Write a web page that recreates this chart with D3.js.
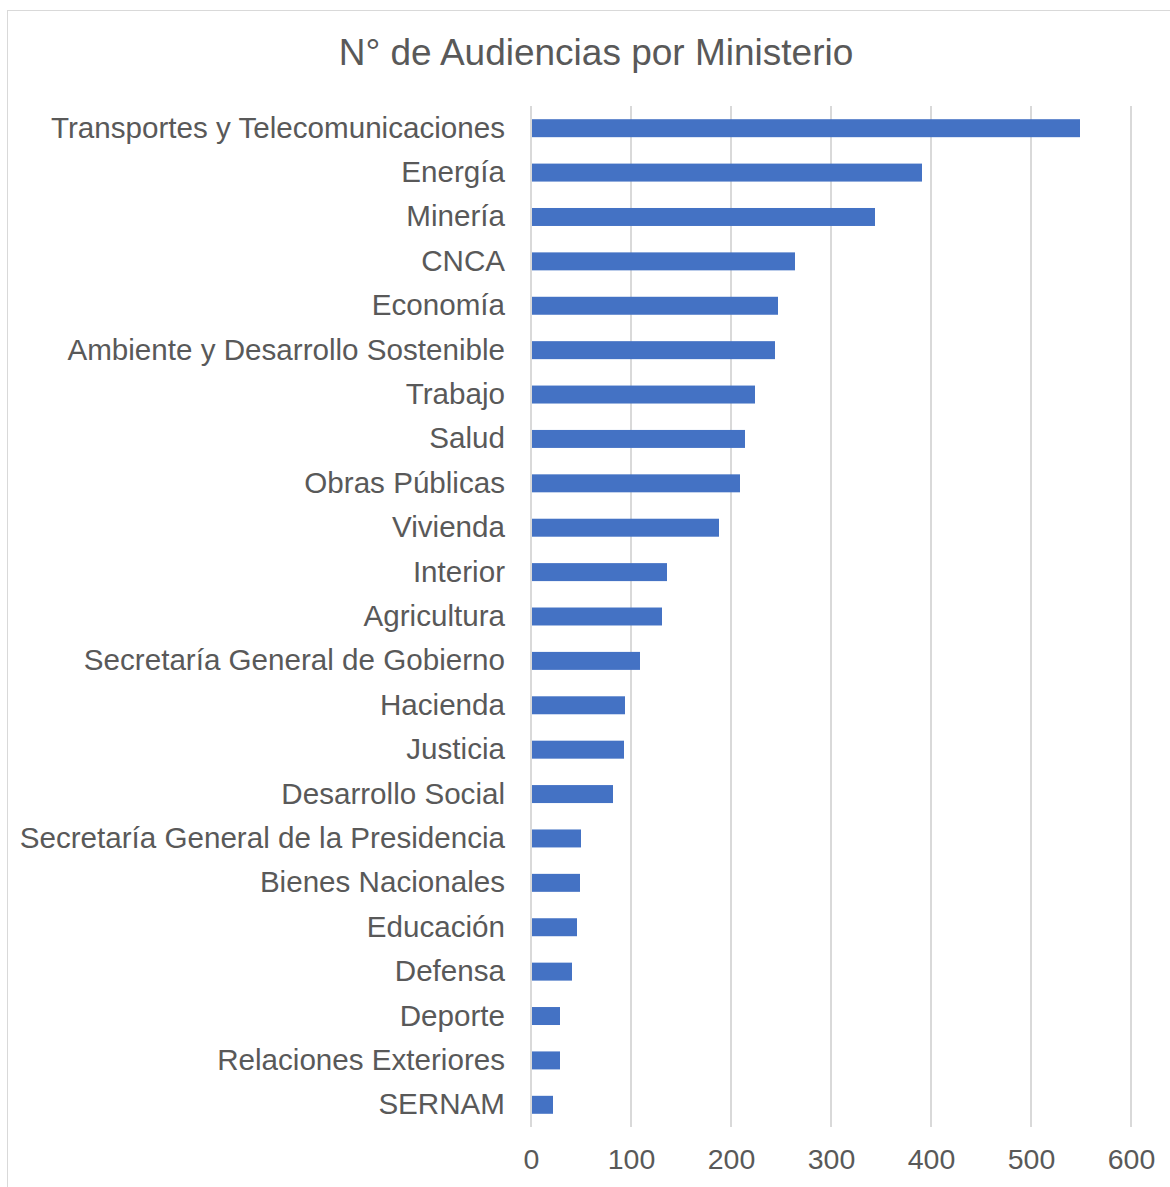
<!DOCTYPE html>
<html>
<head>
<meta charset="utf-8">
<script src="https://cdn.jsdelivr.net/npm/d3@7"></script>
<style>
  body { margin: 0; background: #fff; }
  text { font-family: "Liberation Sans", Arial, sans-serif; fill: #595959; }
</style>
</head>
<body>
<div id="chart"></div>
<script>
// ministries, top to bottom
var ministries = ["Transportes y Telecomunicaciones", "Energía", "Minería", "CNCA", "Economía",
    "Ambiente y Desarrollo Sostenible", "Trabajo", "Salud", "Obras Públicas", "Vivienda",
    "Interior", "Agricultura", "Secretaría General de Gobierno", "Hacienda", "Justicia",
    "Desarrollo Social", "Secretaría General de la Presidencia", "Bienes Nacionales",
    "Educación", "Defensa", "Deporte", "Relaciones Exteriores", "SERNAM"];
var audiencias = [549, 391, 344, 264, 247, 244, 224, 214, 209, 188, 136, 131, 109, 94, 93,
    82, 50, 49, 46, 41, 29, 29, 22];
var xTicks = [0, 100, 200, 300, 400, 500, 600];

var W = 1170, H = 1187;
var margin = { top: 106, right: 39, bottom: 60, left: 531 },
    width = 600,
    height = 1021;

var svg = d3.select("#chart")
    .append("svg")
    .attr("width", W)
    .attr("height", H);

// outer border of the chart area
svg.append("rect")
    .attr("x", 7.5).attr("y", 10.5)
    .attr("width", 1180).attr("height", 1200)
    .attr("fill", "none")
    .attr("stroke", "#d9d9d9");

// title
svg.append("text")
    .attr("x", 596)
    .attr("y", 65)
    .attr("text-anchor", "middle")
    .style("font-size", "37px")
    .text("N° de Audiencias por Ministerio");

var g = svg.append("g")
    .attr("transform", "translate(" + margin.left + "," + margin.top + ")");

var x = d3.scaleLinear()
    .domain([0, 600])
    .range([0, width]);

var y = d3.scaleBand()
    .domain(ministries)
    .range([0, height])
    .paddingInner(0.595)
    .paddingOuter(0.2975);

// gridlines
g.selectAll(".grid")
    .data(xTicks)
    .enter().append("line")
    .attr("class", "grid")
    .attr("x1", function (d) { return x(d); })
    .attr("x2", function (d) { return x(d); })
    .attr("y1", 0)
    .attr("y2", height)
    .attr("stroke", "#d9d9d9")
    .attr("stroke-width", 2);

// x axis labels
var xAxis = g.append("g")
    .attr("transform", "translate(0," + height + ")")
    .call(d3.axisBottom(x).tickValues(xTicks).tickSize(0).tickPadding(22));
xAxis.select(".domain").remove();
xAxis.selectAll("text")
    .attr("fill", "#595959")
    .style("font-size", "28.5px")
    .style("font-family", "\"Liberation Sans\", Arial, sans-serif");

// y axis labels
var yAxis = g.append("g")
    .call(d3.axisLeft(y).tickSize(0).tickPadding(26));
yAxis.select(".domain").remove();
yAxis.selectAll("text")
    .attr("fill", "#595959")
    .style("font-size", "29.6px")
    .style("font-family", "\"Liberation Sans\", Arial, sans-serif");

// bars
g.selectAll(".bar")
    .data(ministries)
    .enter().append("rect")
    .attr("class", "bar")
    .attr("x", x(0) + 1)
    .attr("y", function (d) { return y(d); })
    .attr("width", function (d, i) { return x(audiencias[i]) - x(0) - 1; })
    .attr("height", y.bandwidth())
    .attr("fill", "#4472c4");
</script>
</body>
</html>
